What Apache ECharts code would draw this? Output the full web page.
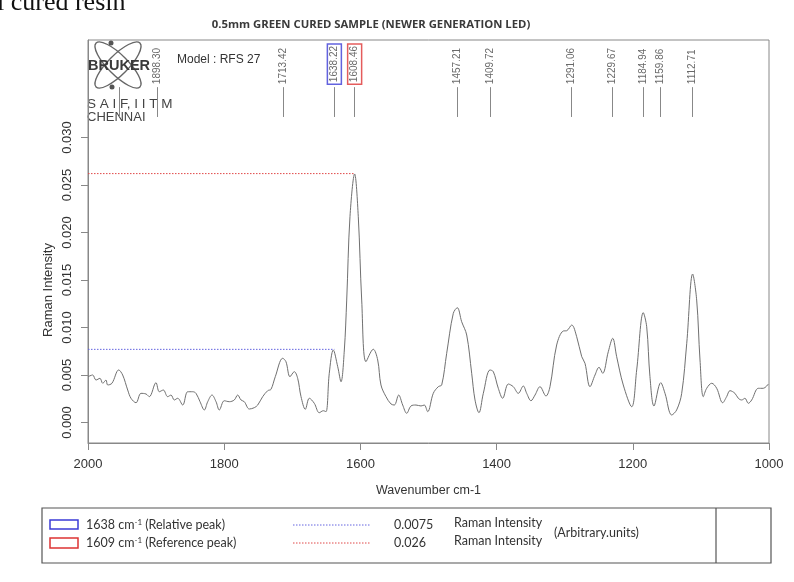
<!DOCTYPE html>
<html>
<head>
<meta charset="utf-8">
<script src="https://cdn.jsdelivr.net/npm/echarts@6/dist/echarts.min.js"></script>
<style>
html,body{margin:0;padding:0;background:#fff;}
#chart{width:794px;height:582px;}
</style>
</head>
<body>
<div id="chart"></div>
<script>
// ---- data ----
const wavenumbers = [2000,1993.1,1988.3,1982.4,1978.4,1973.6,1971.1,1964.8,1954.9,1949.1,1941.7,1936.9,1929.5,1922.2,1914.8,1910.0,1900.2,1895.3,1889.4,1883.0,1878.1,1873.3,1868.3,1860.9,1853.6,1846.3,1841.4,1835.5,1829.2,1824.2,1817.9,1812.0,1807.2,1799.9,1792.5,1785.2,1780.2,1775.3,1770.5,1763.1,1755.8,1750.8,1743.5,1736.1,1731.3,1725.0,1714.1,1709.3,1703.4,1697.1,1692.1,1687.2,1680.9,1675.0,1667.7,1660.4,1654.5,1650.5,1645.7,1639.8,1633.3,1628.5,1623.6,1620.1,1615.3,1608.5,1603.1,1598.1,1591.8,1581.1,1574.6,1569.8,1562.4,1555.1,1550.2,1543.8,1537.9,1532.0,1525.7,1518.4,1511.0,1506.2,1501.2,1493.0,1485.6,1480.6,1473.3,1463.6,1457.7,1451.3,1443.9,1436.6,1431.7,1425.9,1419.5,1409.7,1404.8,1397.5,1391.1,1382.8,1375.5,1368.1,1360.8,1355.8,1349.5,1343.6,1336.3,1327.5,1321.6,1311.8,1302.1,1297.1,1289.7,1282.4,1275.0,1270.2,1262.9,1255.5,1249.6,1244.2,1236.0,1229.5,1223.7,1214.0,1201.6,1194.3,1184.6,1179.6,1174.8,1168.9,1159.0,1152.7,1142.9,1135.6,1128.2,1120.8,1112.1,1106.2,1101.3,1096.5,1091.5,1084.1,1076.8,1068.0,1062.2,1057.3,1050.0,1045.1,1040.1,1035.3,1030.4,1025.4,1015.7,1008.4,1001.0];
const intensities = [0.00482,0.00500,0.00447,0.00465,0.00413,0.00447,0.00395,0.00413,0.00553,0.00500,0.00342,0.00255,0.00208,0.00307,0.00300,0.00272,0.00419,0.00324,0.00342,0.00272,0.00289,0.00237,0.00255,0.00184,0.00324,0.00324,0.00307,0.00219,0.00132,0.00219,0.00289,0.00219,0.00132,0.00229,0.00219,0.00237,0.00289,0.00237,0.00219,0.00142,0.00156,0.00184,0.00272,0.00335,0.00349,0.00482,0.00676,0.00640,0.00482,0.00535,0.00465,0.00272,0.00139,0.00255,0.00202,0.00103,0.00124,0.00114,0.00518,0.00763,0.00587,0.00429,0.00763,0.01289,0.02166,0.02616,0.02166,0.01289,0.00640,0.00771,0.00658,0.00395,0.00272,0.00195,0.00184,0.00289,0.00184,0.00097,0.00174,0.00184,0.00174,0.00184,0.00114,0.00307,0.00377,0.00395,0.00728,0.01149,0.01208,0.01061,0.00921,0.00518,0.00237,0.00103,0.00307,0.00553,0.00535,0.00360,0.00255,0.00405,0.00377,0.00307,0.00384,0.00307,0.00229,0.00289,0.00377,0.00279,0.00377,0.00816,0.00963,0.00966,0.01026,0.00903,0.00693,0.00623,0.00377,0.00500,0.00581,0.00518,0.00745,0.00886,0.00693,0.00395,0.00166,0.00553,0.01156,0.01008,0.00482,0.00174,0.00419,0.00307,0.00079,0.00132,0.00307,0.00834,0.01563,0.01289,0.00658,0.00272,0.00360,0.00413,0.00360,0.00208,0.00272,0.00335,0.00307,0.00255,0.00237,0.00255,0.00202,0.00237,0.00360,0.00360,0.00405];
const peakPositions = [1954.5,1898.30,1713.42,1638.22,1608.46,1457.21,1409.72,1291.06,1229.67,1184.94,1159.86,1112.71];
const peakLabels = ['','1898.30','1713.42','1638.22','1608.46','1457.21','1409.72','1291.06','1229.67','1184.94','1159.86','1112.71'];
const xTicks = [2000,1800,1600,1400,1200,1000];
const yTicks = [0,0.005,0.010,0.015,0.020,0.025,0.030];
const relativePeak = {wavenumber:1638.22, value:0.0077, label:'0.0075'};
const referencePeak = {wavenumber:1608.46, value:0.0262, label:'0.026'};
const peakMarkLow = 0.03216, peakMarkHigh = 0.0353;

const chart = echarts.init(document.getElementById('chart'), null, {renderer:'canvas'});
const FONT = '"Liberation Sans", Arial, sans-serif';

const spectrum = wavenumbers.map((w,i)=>[w, intensities[i]]);

const peakLines = peakPositions.map(w => [{coord:[w, peakMarkLow]},{coord:[w, peakMarkHigh]}]);
const peakLabelData = peakPositions.map((w,i) => {
  const d = {value:[w, peakMarkHigh], name: peakLabels[i]};
  if (w === relativePeak.wavenumber) d.label = {borderColor:'#3b3bd6', borderWidth:1.5, padding:[2,2]};
  if (w === referencePeak.wavenumber) d.label = {borderColor:'#d33', borderWidth:1.5, padding:[2,2]};
  return d;
});

const legendRich = {s:{fontSize:8, verticalAlign:'top', padding:[0,0,6,0], fontFamily:'Lato'}};

const option = {
  animation:false,
  backgroundColor:'#ffffff',
  grid:{left:88,right:25,top:40,bottom:139,show:true,borderColor:'#888',borderWidth:1,backgroundColor:'transparent'},
  xAxis:{
    type:'value', inverse:true, min:1000, max:2000, interval:200,
    name:'Wavenumber cm-1', nameLocation:'middle', nameGap:41,
    nameTextStyle:{fontFamily:FONT, fontSize:12.5, color:'#333'},
    axisLine:{show:true, onZero:false, lineStyle:{color:'#888', width:1}},
    axisTick:{show:true, length:7, lineStyle:{color:'#888'}},
    axisLabel:{fontFamily:FONT, fontSize:13, color:'#333', margin:15, formatter: v => String(v)},
    splitLine:{show:false}
  },
  yAxis:{
    type:'value', min:-0.002158, max:0.040263,
    axisLine:{show:true, onZero:false, lineStyle:{color:'#888', width:1}},
    axisTick:{show:true, length:7, lineStyle:{color:'#888'}, customValues:yTicks},
    axisLabel:{fontFamily:FONT, fontSize:13, color:'#333', rotate:90, margin:14, customValues:yTicks,
      formatter: v => v.toFixed(3)},
    splitLine:{show:false}
  },
  series:[
    {
      type:'line', data:spectrum, showSymbol:false, smooth:0.35,
      lineStyle:{color:'#707070', width:1},
      markLine:{
        silent:true, symbol:['none','none'], animation:false,
        label:{show:false},
        lineStyle:{color:'#888', width:1, type:'solid'},
        data: peakLines
      }
    },
    {
      type:'line', name:'reference', showSymbol:false, silent:true,
      data:[[2000, referencePeak.value],[referencePeak.wavenumber, referencePeak.value]],
      lineStyle:{color:'#e04848', width:1, type:[1.5,1.5]}
    },
    {
      type:'line', name:'relative', showSymbol:false, silent:true,
      data:[[2000, relativePeak.value],[relativePeak.wavenumber, relativePeak.value]],
      lineStyle:{color:'#6464e0', width:1, type:[1.5,1.5]}
    },
    {
      type:'scatter', data:peakLabelData, symbolSize:0, silent:true,
      label:{show:true, position:'top', distance:3, rotate:90, align:'left', verticalAlign:'middle',
        formatter: p => p.name, fontFamily:FONT, fontSize:10, color:'#444'}
    }
  ],
  graphic:[
    {type:'text', left:-3, top:-10, style:{text:'l cured resin', font:'26px "Liberation Serif", "Times New Roman", serif', fill:'#111'}},
    {type:'text', x:371, y:25, style:{text:'0.5mm GREEN CURED SAMPLE (NEWER GENERATION LED)', font:'bold 11.3px "Open Sans", sans-serif', fill:'#3a3a3a', align:'center', verticalAlign:'middle'}},
    // Bruker logo
    {type:'ellipse', x:118, y:65, rotation:Math.PI/4, shape:{cx:0,cy:0,rx:31,ry:10}, style:{fill:'none', stroke:'#666', lineWidth:1.4}},
    {type:'ellipse', x:118, y:65, rotation:-Math.PI/4, shape:{cx:0,cy:0,rx:31,ry:10}, style:{fill:'none', stroke:'#666', lineWidth:1.4}},
    {type:'circle', shape:{cx:111,cy:43,r:2.5}, style:{fill:'#555'}},
    {type:'circle', shape:{cx:112,cy:87,r:2.5}, style:{fill:'#555'}},
    {type:'text', x:88, y:66, style:{text:'BRUKER', font:'900 14.5px "Liberation Sans", Arial, sans-serif', fill:'#3a3a3a', verticalAlign:'middle'}},
    {type:'text', x:177, y:60, style:{text:'Model : RFS 27', font:'12px "Liberation Sans", Arial, sans-serif', fill:'#333', verticalAlign:'middle'}},
    {type:'text', x:87, y:104, style:{text:'S A I F, I I T M', font:'13.5px "Liberation Sans", Arial, sans-serif', fill:'#444', verticalAlign:'middle'}},
    {type:'text', x:87, y:117, style:{text:'CHENNAI', font:'13px "Liberation Sans", Arial, sans-serif', fill:'#444', verticalAlign:'middle'}},
    {type:'text', x:48, y:290, rotation:Math.PI/2, style:{text:'Raman Intensity', font:'13px "Liberation Sans", Arial, sans-serif', fill:'#333', align:'center', verticalAlign:'middle'}},
    // legend table
    {type:'rect', shape:{x:42,y:508,width:729,height:55}, style:{fill:'none', stroke:'#555', lineWidth:1.2}},
    {type:'line', shape:{x1:716,y1:508,x2:716,y2:563}, style:{stroke:'#555', lineWidth:1.2}},
    {type:'rect', shape:{x:50,y:520,width:28,height:9}, style:{fill:'none', stroke:'#3b3bd6', lineWidth:1.5}},
    {type:'rect', shape:{x:50,y:538,width:28,height:10}, style:{fill:'none', stroke:'#d33', lineWidth:1.5}},
    {type:'text', x:86, y:525, style:{text:'1638 cm{s|-1} (Relative peak)', font:'12.5px Lato, sans-serif', fill:'#333', verticalAlign:'middle', rich:legendRich}},
    {type:'text', x:86, y:543, style:{text:'1609 cm{s|-1} (Reference peak)', font:'12.5px Lato, sans-serif', fill:'#333', verticalAlign:'middle', rich:legendRich}},
    {type:'line', shape:{x1:293,y1:525,x2:370,y2:525}, style:{stroke:'#6464e0', lineWidth:1, lineDash:[1.5,1.5]}},
    {type:'line', shape:{x1:293,y1:543,x2:370,y2:543}, style:{stroke:'#e04848', lineWidth:1, lineDash:[1.5,1.5]}},
    {type:'text', x:394, y:525, style:{text:relativePeak.label, font:'12.5px Lato, sans-serif', fill:'#333', verticalAlign:'middle'}},
    {type:'text', x:394, y:543, style:{text:referencePeak.label, font:'12.5px Lato, sans-serif', fill:'#333', verticalAlign:'middle'}},
    {type:'text', x:454, y:523, style:{text:'Raman Intensity', font:'12.5px Lato, sans-serif', fill:'#333', verticalAlign:'middle'}},
    {type:'text', x:454, y:541, style:{text:'Raman Intensity', font:'12.5px Lato, sans-serif', fill:'#333', verticalAlign:'middle'}},
    {type:'text', x:554, y:533, style:{text:'(Arbitrary.units)', font:'12.5px Lato, sans-serif', fill:'#333', verticalAlign:'middle'}}
  ]
};
chart.setOption(option);
</script>
</body>
</html>
